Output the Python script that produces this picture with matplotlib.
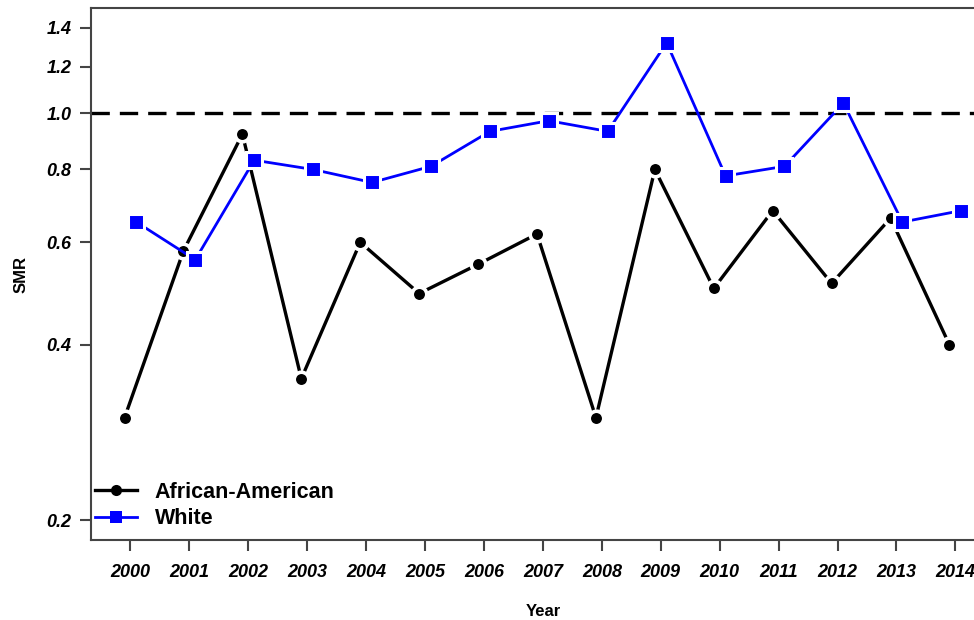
import matplotlib
matplotlib.use("Agg")
import matplotlib.pyplot as plt
from matplotlib.ticker import FixedLocator, FixedFormatter, NullLocator

years = list(range(2000, 2015))
smr_african_american = [0.30, 0.58, 0.92, 0.35, 0.60, 0.49, 0.55, 0.62, 0.30, 0.80, 0.50, 0.68, 0.51, 0.66, 0.40]
smr_white = [0.65, 0.56, 0.83, 0.80, 0.76, 0.81, 0.93, 0.97, 0.93, 1.32, 0.78, 0.81, 1.04, 0.65, 0.68]
y_ticks = [0.2, 0.4, 0.6, 0.8, 1.0, 1.2, 1.4]

plt.rcParams['font.family'] = ['Liberation Sans', 'DejaVu Sans']

fig = plt.figure(figsize=(9.74, 6.2), dpi=100)
ax = fig.add_axes([0.0934, 0.129, 0.928, 0.858])

# dodge the two series a little so the points do not sit on top of each other
x_aa = [y - 0.1 for y in years]
x_w = [y + 0.1 for y in years]

ax.plot(x_aa, smr_african_american, color='black', lw=2.4, marker='o', ms=10.5,
        mfc='black', mec='white', mew=2.6, label='African-American', zorder=3)
ax.plot(x_w, smr_white, color='#0000ff', lw=2.0, marker='s', ms=11.5,
        mfc='#0000ff', mec='white', mew=2.2, label='White', zorder=3)

ax.axhline(1.0, color='black', lw=2.4, ls=(0, (5.5, 3)), zorder=2)

ax.set_yscale('log')
ax.set_xlim(1999.33, 2014.67)
ax.set_ylim(0.185, 1.514)

ax.yaxis.set_major_locator(FixedLocator(y_ticks))
ax.yaxis.set_major_formatter(FixedFormatter([f"{v:.1f}" for v in y_ticks]))
ax.yaxis.set_minor_locator(NullLocator())
ax.set_xticks(years)
ax.set_xticklabels([str(y) for y in years])

for lab in ax.get_xticklabels() + ax.get_yticklabels():
    lab.set_fontweight('bold')
    lab.set_fontstyle('italic')
    lab.set_fontsize(13)

ax.tick_params(axis='both', direction='out', length=8, width=1.5, color='#444444')
ax.tick_params(axis='y', pad=6)
ax.tick_params(axis='x', pad=9)
for s in ax.spines.values():
    s.set_color('#444444')
    s.set_linewidth(1.5)

ax.set_ylabel('SMR', fontsize=12, fontweight='bold', labelpad=13)
ax.set_xlabel('Year', fontsize=12, fontweight='bold', labelpad=17)

leg = ax.legend(loc='lower left', bbox_to_anchor=(0.004, 0.02), frameon=False,
                prop={'size': 15.5, 'weight': 'bold'}, handlelength=1.95,
                handletextpad=0.85, labelspacing=0.25, borderpad=0, borderaxespad=0)
for h in leg.legend_handles:
    h.set_markeredgecolor(h.get_color())
    h.set_markeredgewidth(0)
    h.set_markersize(8)

fig.savefig('out.png', dpi=100)
